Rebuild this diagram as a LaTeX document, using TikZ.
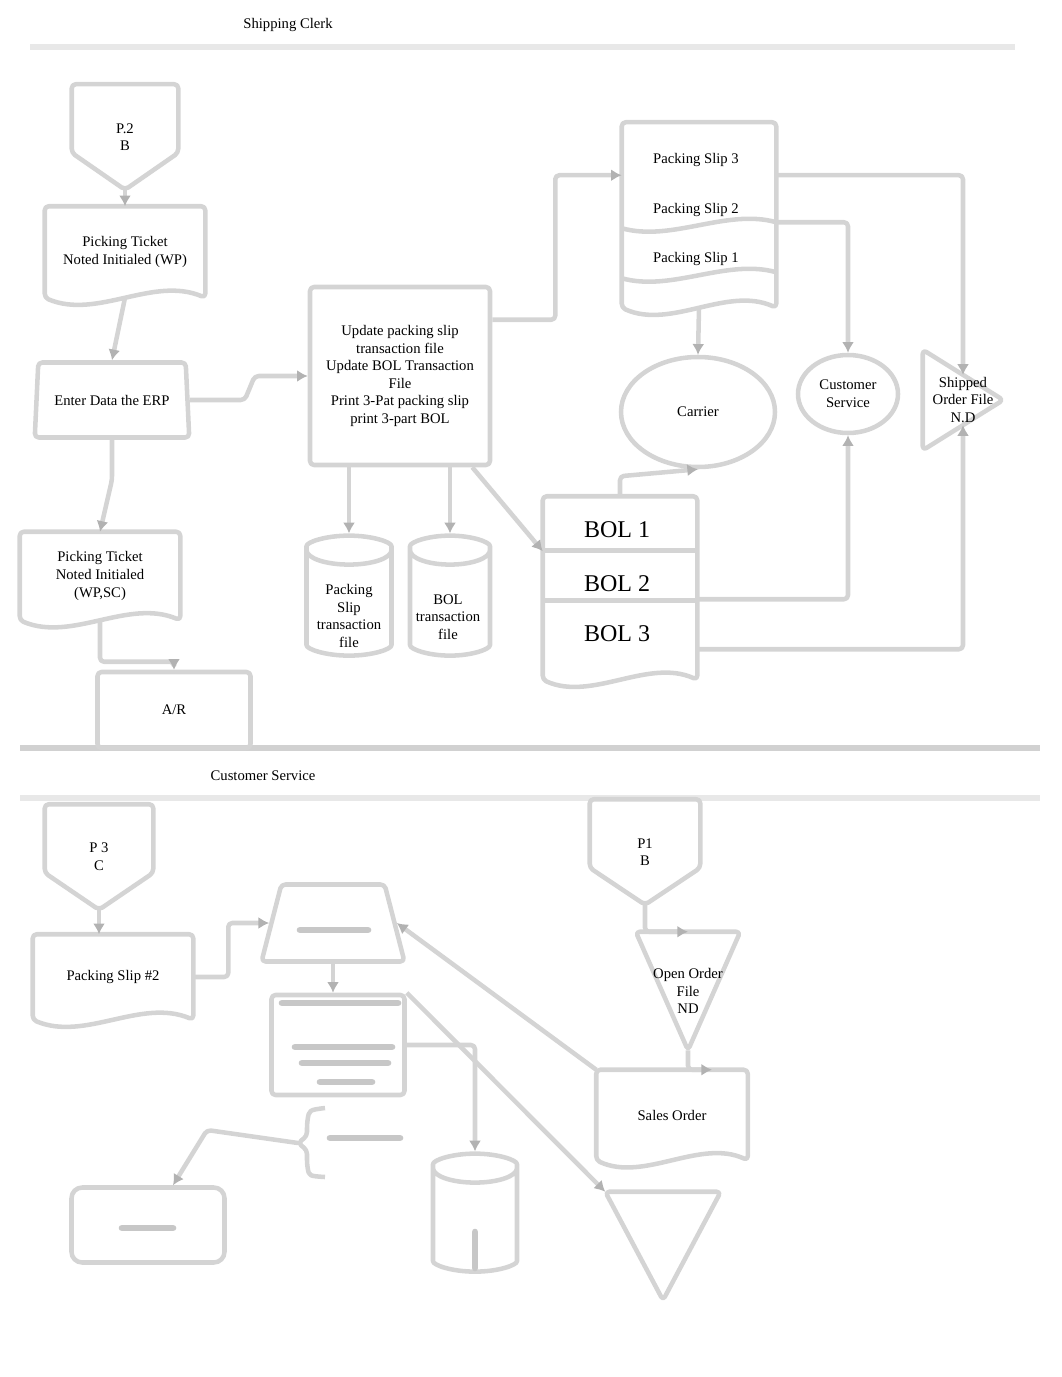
\documentclass[tikz,border=0pt]{standalone}
\usepackage{fontspec}
\setmainfont{Liberation Serif}
\usetikzlibrary{arrows.meta,shapes.geometric,calc}

\tikzset{
  ln/.style={draw=black!17, line width=3.4pt, line join=round, rounded corners=3pt},
  arr/.style={ln, -{Latex[length=8pt,width=9pt,color=black!30]}},
  lane/.style={draw=black!9, line width=5pt},
  smudge/.style={draw=black!22, line width=5pt, line cap=round},
  sz/.style 2 args={minimum width=#1*0.75pt, minimum height=#2*0.75pt},
  box/.style={rectangle, ln, inner sep=0pt},
  trap/.style={trapezium, trapezium left angle=75, trapezium right angle=75,
    trapezium stretches=true, ln, inner sep=0pt},
  ell/.style={ellipse, ln, inner sep=0pt},
  cyl/.style={cylinder, shape border rotate=90, aspect=0.45, ln, inner sep=0pt},
  doc/.style={inner sep=0pt, append after command={\pgfextra{
    \draw[ln] (\tikzlastnode.north west) -- (\tikzlastnode.north east) -- (\tikzlastnode.south east)
      .. controls ($(\tikzlastnode.south)+(28,-22)$) and ($(\tikzlastnode.south)+(-28,22)$)
      .. (\tikzlastnode.south west) -- cycle;}}},
  offpage/.style={inner sep=0pt, append after command={\pgfextra{
    \draw[ln] (\tikzlastnode.north west) -- (\tikzlastnode.north east)
      -- ($(\tikzlastnode.north east)!0.65!(\tikzlastnode.south east)$) -- (\tikzlastnode.south)
      -- ($(\tikzlastnode.north west)!0.65!(\tikzlastnode.south west)$) -- cycle;}}},
  mergetri/.style={inner sep=0pt, append after command={\pgfextra{
    \draw[ln] (\tikzlastnode.north west) -- (\tikzlastnode.north east) -- (\tikzlastnode.south) -- cycle;}}},
  sidetri/.style={inner sep=0pt, append after command={\pgfextra{
    \draw[ln] (\tikzlastnode.north west) -- (\tikzlastnode.east) -- (\tikzlastnode.south west) -- cycle;}}},
  every node/.style={font=\fontsize{11}{13.2}\selectfont, align=center},
  big/.style={font=\fontsize{18}{22}\selectfont}
}

\begin{document}
\begin{tikzpicture}[x=0.75pt, y=-0.75pt]
    \useasboundingbox (0,0) rectangle (1062,1377);

    % swim lanes
    \node (clerk) at (288,25) {Shipping Clerk};
    \draw[lane] (30,47) -- (1015,47);
    \draw[lane, draw=black!18] (20,748) -- (1040,748);
    \node (service) at (263,776) {Customer Service};
    \draw[lane] (20,798) -- (1040,798);

    % shipping clerk
    \node[offpage, sz={106}{105}] (p2) at (125,137) {P.2\\B};
    \node[doc, sz={160}{91}] (pt1) at (125,252) {Picking Ticket\\Noted Initialed (WP)};
    \node[trap, sz={155}{75}] (erp) at (112,400) {Enter Data the ERP};
    \node[box, sz={180}{178}] (proc) at (400,376) {Update packing slip\\transaction file\\Update BOL Transaction\\File\\Print 3-Pat packing slip\\print 3-part BOL};
    \node[doc, sz={154}{185}] (slips) at (699,215) {};
    \node (ps3) at (696,160) {Packing Slip 3};
    \node (ps2) at (696,210) {Packing Slip 2};
    \node (ps1) at (696,259) {Packing Slip 1};
    \node[ell, sz={154}{110}] (carrier) at (698,412) {Carrier};
    \node[ell, sz={100}{78}] (cs) at (848,394) {Customer\\Service};
    \node[sidetri, sz={80}{100}] (sof) at (963,400) {Shipped\\Order File\\N.D};
    \node[doc, sz={154}{183}] (bol) at (620,588) {};
    \node[big] (bol1) at (617,530) {BOL 1};
    \node[big] (bol2) at (617,584) {BOL 2};
    \node[big] (bol3) at (617,634) {BOL 3};
    \node[cyl, sz={85}{120}] (psf) at (349,604) {\phantom{transaction}};
    \node (psftext) at (349,616) {Packing\\Slip\\transaction\\file};
    \node[cyl, sz={80}{120}] (bolf) at (450,604) {\phantom{transaction}};
    \node (boltext) at (448,617) {BOL\\transaction\\file};
    \node[doc, sz={160}{88}] (pt2) at (100,576) {Picking Ticket\\Noted Initialed\\(WP,SC)};
    \node[box, sz={153}{76}] (ar) at (174,710) {A/R};

    \draw[ln] ($(slips.north west)+(0,106)$) .. controls +(50,14) and +(-50,-14) .. ($(slips.north east)+(0,100)$);
    \draw[ln] ($(slips.north west)+(0,156)$) .. controls +(50,14) and +(-50,-14) .. ($(slips.north east)+(0,150)$);
    \draw[ln] ($(bol.north west)+(0,54)$) -- ($(bol.north east)+(0,54)$);
    \draw[ln] ($(bol.north west)+(0,104)$) -- ($(bol.north east)+(0,104)$);

    \draw[arr] (p2.south) -- (pt1.north);
    \draw[arr] (pt1.south) -- (erp.north);
    \draw[arr] (erp.east) -- ++(55,0) -- ++(10,-24) -- (proc.west);
    \draw[arr] ($(proc.north east)+(0,35)$) -- ++(63,0) |- ($(slips.north west)+(0,53)$);
    \draw[arr] (slips.south) -- (carrier.north);
    \draw[arr] ($(slips.north east)+(0,100)$) -| (cs.north);
    \draw[arr] ($(slips.north east)+(0,53)$) -| ($(sof.north west)!0.5!(sof.east)$);
    \draw[arr] ($(bol.north east)+(0,103)$) -| (cs.south);
    \draw[arr] ($(bol.north east)+(0,153)$) -| ($(sof.south west)!0.5!(sof.east)$);
    \draw[arr] (bol.north) -- ++(0,-20) -- (carrier.south);
    \draw[arr] ($(proc.south east)+(-20,0)$) -- ($(bol.north west)+(0,55)$);
    \draw[arr] (proc.south -| psf.north) -- (psf.north);
    \draw[arr] (proc.south -| bolf.north) -- (bolf.north);
    \draw[arr] (erp.south) -- ++(0,40) -- (pt2.north);
    \draw[arr] (pt2.south) |- ($(ar.north)+(0,-8)$) -- (ar.north);

    % customer service
    \node[offpage, sz={108}{105}] (p3) at (99,857) {P 3\\C};
    \node[doc, sz={160}{85}] (psn) at (113,977) {Packing Slip \#2};
    \node[trap, sz={143}{77}] (box1) at (333,923) {\phantom{Ag}};
    \node[box, sz={133}{100}] (box2) at (338,1045) {};
    \node[box, rounded corners=8pt, sz={153}{75}] (endbox) at (148,1225) {};
    \node[cyl, sz={84}{118}] (cyl2) at (475,1221) {\phantom{transaction}};
    \node[offpage, sz={110}{105}] (p1) at (645,852) {P1\\B};
    \node[mergetri, sz={104}{118}] (oof) at (688,991) {Open Order\\File\\ND};
    \node[doc, sz={151}{90}] (so) at (672,1115) {Sales Order};
    \node[mergetri, sz={115}{108}] (tri2) at (663,1246) {};
    \coordinate (brace) at (298,1143);

    % unreadable texts
    \draw[smudge] (300,930) -- (368,930);
    \draw[smudge] (282,1003) -- (398,1003);
    \draw[smudge] (295,1047) -- (392,1047);
    \draw[smudge] (302,1063) -- (388,1063);
    \draw[smudge] (320,1082) -- (372,1082);
    \draw[smudge] (330,1138) -- (400,1138);
    \draw[smudge] (122,1228) -- (173,1228);
    \draw[smudge] (475,1232) -- (475,1268);
    \draw[ln] (325,1108) .. controls (309,1110) .. (307,1124) -- (307,1136) -- (brace)
      -- (307,1150) -- (307,1164) .. controls (309,1176) .. (325,1177);

    \draw[arr] (p3.south) -- (p3.south |- psn.north);
    \draw[arr] (psn.east) -- ++(35,0) |- (box1.west);
    \draw[arr] (box1.south) -- (box1.south |- box2.north);
    \draw[arr] (so.north west) -- (box1.east);
    \draw[arr] (box2.north east) -- (tri2.north west);
    \draw[arr] (box2.east) -| (cyl2.north);
    \draw[arr] (brace) -- (207,1130) -- ($(endbox.north)+(25,0)$);
    \draw[arr] (p1.south) |- (oof.north);
    \draw[arr] (oof.south) |- ($(so.north)+(40,0)$);
\end{tikzpicture}
\end{document}
